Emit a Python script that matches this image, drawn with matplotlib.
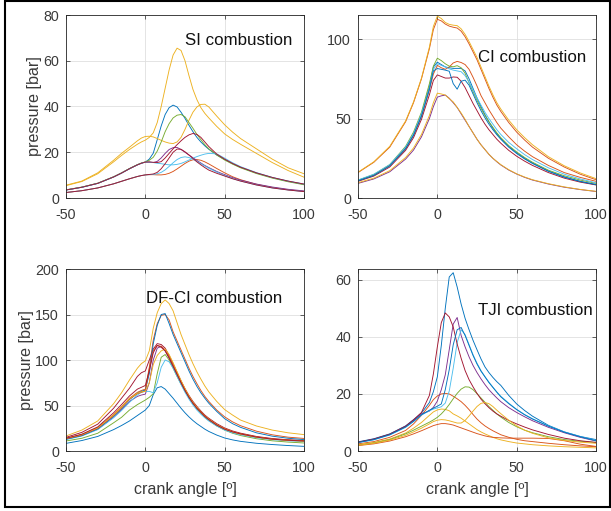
"""Cylinder pressure traces for four combustion modes (SI, CI, DF-CI, TJI).

2x2 panel figure, MATLAB-like look, saved as out.png (611x511 px).
"""
import matplotlib
matplotlib.use("Agg")
import matplotlib.pyplot as plt
from matplotlib.patches import Rectangle

plt.rcParams["font.family"] = ["Liberation Sans", "DejaVu Sans"]
plt.rcParams["axes.unicode_minus"] = False

# crank angle grid [deg] shared by every trace
CA = [-50, -40, -30, -20, -15, -10, -5, -2.5, 0, 2.5, 5, 7.5, 10, 12.5, 15,
      17.5, 20, 22.5, 25, 27.5, 30, 32.5, 35, 37.5, 40, 45, 50, 55, 60, 70,
      80, 90, 100]

# ---- SI combustion [bar] ----
si_blue = [3.5, 4.7, 6.4, 9.2, 10.9, 12.8, 14.5, 15.2, 15.7, 17.0, 19.6, 25.5, 31.5, 36.5, 39.5,
           40.6, 39.8, 37.5, 34.8, 31.8, 29.0, 26.5, 24.5, 22.8, 21.3, 18.8, 16.8, 15.0, 13.4, 10.9,
           8.9, 7.3, 6.0]
si_orange = [2.4, 3.2, 4.4, 6.2, 7.3, 8.4, 9.4, 9.8, 10.1, 10.2, 10.2, 10.1, 10.1, 10.3, 10.8,
             11.6, 12.7, 13.9, 15.1, 16.1, 16.7, 16.8, 16.5, 15.8, 14.9, 12.9, 11.0, 9.3, 8.0, 6.0,
             4.6, 3.6, 2.9]
si_yellow_a = [5.6, 7.4, 11.0, 16.5, 19.5, 22.2, 25.0, 26.2, 26.9, 27.0, 26.7, 26.0, 25.2, 24.5, 24.0,
               23.8, 24.5, 26.5, 30.0, 34.0, 37.5, 39.8, 40.9, 41.0, 39.8, 35.8, 32.0, 28.8, 26.0, 21.5,
               17.0, 13.2, 10.6]
si_purple = [3.5, 4.7, 6.4, 9.2, 10.9, 12.8, 14.5, 15.2, 15.7, 15.6, 15.5, 16.0, 17.5, 19.5, 21.2,
             22.0, 22.1, 21.2, 20.0, 18.8, 17.6, 16.4, 15.3, 14.2, 13.3, 11.6, 10.2, 8.9, 7.8, 6.1,
             4.8, 3.8, 3.1]
si_green = [3.6, 4.8, 6.5, 9.3, 11.0, 12.9, 14.6, 15.3, 15.8, 16.5, 17.8, 20.5, 24.5, 29.0, 32.5,
            35.0, 36.2, 36.5, 35.5, 33.0, 30.5, 27.8, 25.5, 23.3, 21.5, 18.8, 16.6, 14.8, 13.2, 10.7,
            8.7, 7.1, 5.8]
si_ltblue_a = [3.5, 4.7, 6.4, 9.2, 10.9, 12.8, 14.5, 15.2, 15.7, 15.7, 15.5, 15.2, 15.0, 14.7, 14.5,
               14.5, 14.7, 15.1, 15.8, 16.6, 17.4, 18.1, 18.7, 19.2, 19.5, 19.3, 17.4, 15.4, 13.7, 11.1,
               9.0, 7.4, 6.1]
si_darkred_a = [3.5, 4.7, 6.4, 9.2, 10.9, 12.8, 14.5, 15.2, 15.7, 15.8, 15.6, 15.5, 15.9, 17.5, 19.5,
                21.5, 23.3, 25.0, 26.5, 27.6, 28.2, 27.8, 26.5, 24.5, 22.5, 19.2, 17.0, 15.1, 13.5, 11.0,
                9.0, 7.4, 6.1]
si_ltblue_b = [2.4, 3.2, 4.4, 6.2, 7.3, 8.4, 9.4, 9.8, 10.1, 10.2, 10.3, 10.6, 11.2, 12.3, 13.8,
               15.4, 16.8, 17.7, 18.0, 17.7, 17.0, 16.0, 15.0, 14.0, 13.0, 11.3, 9.8, 8.5, 7.4, 5.7,
               4.4, 3.5, 2.8]
si_darkred_b = [2.4, 3.2, 4.4, 6.2, 7.3, 8.4, 9.4, 9.8, 10.1, 10.3, 10.5, 11.2, 12.8, 15.0, 17.5,
                20.0, 21.4, 21.3, 20.2, 18.8, 17.3, 15.8, 14.5, 13.3, 12.2, 10.8, 9.6, 8.4, 7.4, 5.7,
                4.4, 3.5, 2.8]
si_yellow_b = [5.4, 7.2, 10.6, 15.8, 18.6, 21.2, 23.5, 24.5, 25.3, 26.5, 28.5, 33.0, 40.0, 48.0, 56.0,
               62.5, 65.5, 64.5, 60.0, 53.5, 47.5, 43.0, 39.5, 37.0, 35.0, 31.3, 28.0, 25.6, 23.5, 19.5,
               15.5, 12.0, 9.1]

# ---- CI combustion [bar] ----
ci_orange_top = [16.0, 22.5, 32.0, 48.0, 60.0, 75.0, 94.0, 106.0, 112.5, 111.5, 109.5, 108.2, 107.5, 107.0, 105.0,
                 101.5, 97.0, 92.0, 87.0, 81.0, 75.0, 69.0, 63.5, 58.5, 54.5, 47.5, 41.5, 36.5, 32.0, 25.0,
                 19.5, 15.0, 11.5]
ci_yellow_top = [16.2, 22.8, 32.5, 48.5, 60.5, 75.5, 95.0, 108.0, 114.5, 113.0, 110.5, 109.3, 108.8, 108.5, 106.5,
                 103.0, 98.5, 93.5, 88.5, 82.5, 76.5, 70.5, 65.0, 60.0, 56.0, 49.0, 43.0, 38.0, 33.5, 26.0,
                 20.3, 15.8, 12.2]
ci_purple = [9.2, 12.0, 16.5, 24.5, 30.2, 38.5, 50.0, 57.5, 63.5, 64.3, 64.8, 62.8, 60.0, 57.0, 53.0,
             49.0, 45.0, 41.0, 37.0, 33.5, 30.5, 27.5, 25.0, 22.8, 20.8, 17.6, 15.1, 13.0, 11.3, 8.8,
             6.8, 5.3, 4.1]
ci_yellow_low = [9.6, 12.5, 17.2, 25.5, 31.5, 40.0, 52.0, 60.0, 66.0, 65.5, 64.8, 62.5, 60.5, 57.0, 53.5,
                 49.5, 45.0, 41.0, 37.0, 33.5, 30.5, 27.5, 25.0, 23.0, 21.0, 17.8, 15.2, 13.2, 11.5, 9.0,
                 7.0, 5.4, 4.2]
ci_blue = [11.0, 14.5, 20.5, 31.5, 40.0, 52.5, 70.0, 82.5, 85.5, 84.0, 82.5, 82.0, 81.6, 81.6, 81.6,
           80.0, 75.0, 69.0, 63.0, 57.5, 52.5, 48.0, 44.0, 40.5, 37.5, 32.5, 28.5, 25.0, 22.0, 17.0,
           13.3, 10.5, 8.5]
ci_orange_mid = [11.0, 14.5, 20.5, 31.0, 39.5, 51.5, 68.0, 78.0, 83.5, 82.0, 81.0, 82.5, 85.0, 86.0, 85.3,
                 84.0, 81.0, 76.0, 70.5, 64.5, 60.0, 55.5, 51.5, 47.5, 44.0, 38.5, 33.5, 29.5, 26.0, 20.5,
                 16.0, 13.0, 10.5]
ci_green = [11.2, 14.8, 21.0, 32.5, 41.5, 54.0, 72.0, 83.0, 88.0, 86.5, 84.5, 83.0, 82.6, 83.3, 82.0,
            78.5, 72.5, 67.0, 61.5, 56.5, 52.0, 48.0, 44.5, 41.0, 38.0, 33.0, 29.0, 25.5, 22.5, 17.5,
            14.0, 11.3, 9.2]
ci_ltblue = [11.3, 15.0, 21.0, 32.0, 40.5, 53.0, 69.0, 81.0, 84.5, 83.5, 82.5, 81.3, 80.5, 80.0, 79.5,
             77.0, 73.0, 68.0, 63.0, 58.5, 54.0, 50.0, 46.5, 43.0, 40.0, 35.0, 31.0, 27.3, 24.2, 19.0,
             15.0, 12.0, 9.6]
ci_darkred = [10.5, 13.8, 19.5, 30.0, 38.0, 49.5, 65.0, 74.0, 77.5, 76.5, 75.5, 75.5, 76.2, 76.0, 73.5,
              69.5, 64.5, 59.5, 55.0, 50.5, 46.5, 43.0, 40.0, 37.0, 34.5, 30.0, 26.3, 23.2, 20.5, 16.0,
              12.5, 10.0, 8.2]
ci_blue_dip = [10.8, 14.2, 20.2, 31.0, 39.5, 51.5, 68.5, 80.0, 81.5, 81.0, 80.5, 79.8, 72.0, 68.5, 73.5,
               74.2, 71.0, 65.5, 60.0, 55.0, 50.5, 46.5, 43.0, 39.8, 37.0, 32.0, 28.0, 24.6, 21.7, 16.8,
               13.1, 10.4, 8.4]

# ---- DF-CI combustion [bar] ----
df_blue_low = [8.4, 11.5, 16.0, 23.5, 28.0, 33.0, 39.0, 42.0, 45.0, 50.0, 62.0, 69.5, 70.8, 68.0, 63.0,
               58.0, 52.5, 47.0, 42.0, 37.5, 33.5, 30.0, 27.0, 24.0, 21.5, 17.5, 14.3, 12.2, 10.6, 8.5,
               7.1, 6.0, 5.1]
df_orange_high = [13.8, 18.0, 25.5, 40.0, 48.5, 58.0, 64.5, 66.5, 68.0, 92.0, 122.0, 140.0, 149.0, 150.0, 144.0,
                  131.0, 121.0, 111.0, 101.0, 91.0, 82.0, 74.0, 66.5, 60.0, 54.5, 45.0, 37.5, 32.0, 27.8, 21.8,
                  17.8, 15.2, 13.8]
df_yellow_top = [16.5, 23.0, 33.0, 52.0, 64.0, 78.0, 91.0, 96.0, 99.0, 110.0, 135.0, 152.0, 162.0, 166.0, 162.0,
                 154.0, 141.0, 128.0, 117.0, 106.0, 96.0, 87.0, 79.0, 71.5, 65.0, 54.5, 45.5, 39.5, 34.0, 27.5,
                 23.0, 20.0, 18.0]
df_purple = [13.0, 17.0, 24.0, 37.5, 45.5, 54.5, 60.0, 61.5, 62.5, 75.0, 100.0, 113.0, 115.0, 110.0, 102.5,
             93.5, 84.5, 75.5, 67.0, 59.0, 52.5, 47.0, 42.5, 38.0, 34.5, 28.5, 24.0, 21.0, 18.8, 15.3,
             13.0, 11.8, 11.0]
df_green = [11.0, 14.0, 19.5, 31.0, 37.0, 45.0, 51.0, 53.5, 56.0, 59.0, 63.0, 85.0, 103.0, 106.0, 100.0,
            91.0, 82.0, 73.5, 65.5, 58.5, 52.0, 46.5, 41.5, 37.0, 33.5, 27.5, 23.0, 19.5, 17.0, 13.5,
            11.2, 9.8, 8.8]
df_ltblue = [12.5, 16.5, 23.5, 36.5, 44.5, 53.5, 61.5, 64.5, 65.5, 65.5, 64.0, 75.0, 92.0, 100.0, 98.0,
             91.0, 82.0, 73.0, 64.5, 57.0, 50.5, 45.0, 40.5, 36.5, 33.0, 27.5, 23.0, 20.0, 17.8, 14.6,
             12.5, 11.2, 10.3]
df_darkred_a = [15.0, 20.5, 29.5, 47.0, 58.0, 69.0, 82.0, 86.0, 88.0, 100.0, 112.0, 118.0, 117.0, 113.0, 105.0,
                96.0, 86.5, 77.0, 68.5, 61.0, 54.5, 49.0, 44.0, 39.5, 36.0, 30.0, 25.3, 22.0, 19.6, 16.0,
                13.7, 12.3, 11.5]
df_blue_high = [13.0, 17.0, 24.5, 38.5, 47.0, 56.5, 63.5, 65.5, 67.0, 85.0, 118.0, 138.0, 150.0, 151.0, 140.0,
                128.0, 118.0, 108.0, 98.0, 88.0, 79.0, 71.0, 64.0, 58.0, 52.5, 43.5, 35.5, 30.0, 26.0, 20.0,
                16.3, 14.0, 12.5]
df_orange = [13.5, 17.5, 25.0, 39.0, 47.5, 57.0, 63.0, 64.5, 66.0, 90.0, 110.0, 116.0, 115.0, 111.0, 104.0,
             95.0, 85.5, 76.0, 67.5, 59.5, 53.0, 47.5, 43.0, 38.5, 35.0, 29.0, 24.5, 21.3, 19.0, 15.5,
             13.3, 12.0, 11.2]
df_yellow = [13.8, 18.0, 25.5, 39.5, 48.0, 57.5, 63.5, 65.0, 65.5, 75.0, 95.0, 105.0, 110.0, 112.0, 106.0,
             97.0, 87.0, 77.5, 68.5, 60.5, 53.5, 48.0, 43.0, 38.5, 35.0, 29.0, 24.3, 21.0, 18.6, 15.2,
             12.9, 11.6, 10.8]
df_darkred_b = [14.0, 18.5, 26.5, 42.0, 51.0, 60.5, 68.0, 70.0, 72.0, 88.0, 108.0, 116.0, 114.0, 110.0, 102.0,
                93.0, 84.0, 75.0, 66.5, 59.0, 52.5, 47.0, 42.5, 38.0, 34.5, 28.5, 24.0, 21.0, 18.8, 15.3,
                13.0, 11.8, 11.0]

# ---- TJI combustion [bar] ----
tji_blue_top = [3.2, 4.3, 6.0, 8.8, 11.0, 13.3, 17.0, 20.8, 26.0, 37.0, 50.0, 61.0, 62.5, 57.5, 51.5,
                46.5, 42.5, 38.8, 35.5, 32.3, 29.5, 27.5, 25.8, 24.3, 23.0, 19.5, 16.5, 14.2, 12.2, 9.0,
                6.7, 5.1, 4.0]
tji_orange = [2.5, 3.3, 4.8, 7.2, 9.5, 12.5, 16.0, 18.0, 19.3, 20.0, 20.2, 20.0, 19.2, 18.3, 17.3,
              16.0, 14.5, 12.8, 11.2, 9.9, 8.8, 7.9, 7.1, 6.4, 5.7, 4.8, 4.1, 3.6, 3.3, 2.7,
              2.2, 1.8, 1.5]
tji_yellow_a = [2.2, 3.0, 4.2, 6.3, 8.0, 10.0, 12.5, 13.7, 14.4, 14.7, 14.6, 14.1, 13.0, 12.3, 11.5,
                10.5, 9.5, 8.5, 7.5, 6.7, 6.0, 5.4, 4.8, 4.3, 3.9, 3.3, 2.8, 2.5, 2.2, 1.8,
                1.5, 1.3, 1.1]
tji_purple = [3.0, 4.1, 5.8, 8.6, 10.7, 13.0, 14.0, 15.3, 17.5, 21.5, 26.7, 35.5, 44.5, 46.8, 40.5,
              36.5, 33.0, 30.0, 27.5, 25.3, 23.3, 21.5, 20.0, 18.6, 17.3, 15.2, 13.5, 12.0, 10.6, 8.3,
              6.4, 4.8, 3.5]
tji_green = [2.0, 2.8, 4.0, 6.0, 7.3, 8.7, 10.1, 10.9, 11.8, 13.0, 14.5, 16.3, 18.3, 20.2, 21.7,
             22.5, 22.4, 21.5, 20.1, 18.6, 17.1, 15.6, 14.3, 13.0, 11.9, 10.0, 8.5, 7.3, 6.4, 5.0,
             4.0, 3.4, 3.0]
tji_ltblue = [2.9, 3.9, 5.6, 8.3, 10.3, 12.6, 14.1, 14.7, 15.1, 15.5, 16.8, 21.0, 29.0, 38.0, 42.5,
              40.8, 37.3, 33.8, 30.8, 28.2, 26.1, 24.2, 22.4, 20.7, 19.2, 16.8, 14.6, 12.8, 11.3, 8.8,
              6.7, 5.1, 3.7]
tji_darkred = [3.1, 4.2, 5.9, 8.7, 10.9, 13.5, 19.5, 27.0, 36.5, 45.0, 48.4, 47.0, 43.5, 37.5, 32.5,
               28.2, 25.0, 22.5, 20.2, 18.2, 16.6, 15.2, 14.0, 13.0, 12.2, 10.7, 9.5, 8.4, 7.4, 5.8,
               4.5, 3.6, 3.0]
tji_blue2 = [3.0, 4.0, 5.7, 8.4, 10.4, 12.7, 14.3, 15.0, 15.7, 16.5, 21.5, 28.5, 37.2, 42.5, 43.3,
             40.5, 37.0, 33.5, 30.5, 28.0, 26.0, 24.0, 22.3, 20.6, 19.0, 16.6, 14.5, 12.7, 11.2, 8.7,
             6.6, 5.0, 3.6]
tji_orange_low = [1.9, 2.5, 3.5, 5.0, 6.0, 7.1, 8.3, 8.9, 9.3, 9.6, 9.6, 9.4, 9.1, 8.6, 8.1,
                  7.6, 7.1, 6.6, 6.1, 5.7, 5.3, 5.0, 4.8, 4.7, 4.6, 4.5, 4.5, 4.5, 4.5, 4.4,
                  3.6, 2.4, 1.6]
tji_yellow_b = [2.0, 2.7, 3.8, 5.5, 6.7, 8.0, 9.5, 10.3, 10.8, 11.0, 10.9, 10.6, 10.2, 9.8, 9.8,
                10.7, 12.3, 14.0, 15.6, 16.7, 17.0, 16.6, 15.6, 14.3, 13.1, 10.8, 8.8, 7.3, 6.2, 4.6,
                3.7, 3.1, 2.7]

# MATLAB default line colours
BLUE, ORANGE, YELLOW, PURPLE = "#0072BD", "#D95319", "#EDB120", "#7E2F8E"
GREEN, LTBLUE, DARKRED = "#77AC30", "#4DBEEE", "#A2142F"

W, H = 611, 511


def px_axes(fig, left, top, right, bottom):
    """Axes placed by pixel box (origin top-left)."""
    return fig.add_axes([left / W, 1 - bottom / H, (right - left) / W, (bottom - top) / H])


def draw_panel(ax, curves, ymax, yticks, label, label_xy, xlabel=False, ylabel=False):
    for p, c in curves:
        ax.plot(CA, p, color=c, lw=0.65)
    ax.set_xlim(-50, 100)
    ax.set_ylim(0, ymax)
    ax.set_xticks([-50, 0, 50, 100])
    ax.set_yticks(yticks)
    ax.set_axisbelow(True)
    ax.grid(True, color="#dfdfdf", lw=0.6)
    ax.tick_params(direction="in", top=True, right=True, length=3, width=0.5,
                   colors="#262626", labelsize=10.3, labelcolor="#3a3a3a")
    ax.tick_params(axis="x", pad=7)
    ax.tick_params(axis="y", pad=5)
    for s in ax.spines.values():
        s.set_color("#262626")
        s.set_linewidth(0.6)
    ax.text(label_xy[0], label_xy[1], label, fontsize=12.2, color="#111111",
            ha="left", va="center")
    if xlabel:
        ax.set_xlabel("crank angle [º]", fontsize=11.6, color="#3a3a3a", labelpad=5.5)
    if ylabel:
        ax.set_ylabel("pressure [bar]", fontsize=11.6, color="#3a3a3a", labelpad=1)


def main():
    fig = plt.figure(figsize=(W / 100, H / 100), dpi=100)

    si = [(si_blue, BLUE), (si_orange, ORANGE), (si_yellow_a, YELLOW), (si_purple, PURPLE),
          (si_green, GREEN), (si_ltblue_a, LTBLUE), (si_darkred_a, DARKRED),
          (si_ltblue_b, LTBLUE), (si_darkred_b, DARKRED), (si_yellow_b, YELLOW)]
    ci = [(ci_orange_top, ORANGE), (ci_yellow_top, YELLOW), (ci_purple, PURPLE),
          (ci_yellow_low, YELLOW), (ci_blue, BLUE), (ci_orange_mid, ORANGE), (ci_green, GREEN),
          (ci_ltblue, LTBLUE), (ci_darkred, DARKRED), (ci_blue_dip, BLUE)]
    df = [(df_blue_low, BLUE), (df_orange_high, ORANGE), (df_yellow_top, YELLOW),
          (df_purple, PURPLE), (df_green, GREEN), (df_ltblue, LTBLUE), (df_darkred_a, DARKRED),
          (df_blue_high, BLUE), (df_orange, ORANGE), (df_yellow, YELLOW), (df_darkred_b, DARKRED)]
    tji = [(tji_blue_top, BLUE), (tji_orange, ORANGE), (tji_yellow_a, YELLOW), (tji_purple, PURPLE),
           (tji_green, GREEN), (tji_ltblue, LTBLUE), (tji_darkred, DARKRED), (tji_blue2, BLUE),
           (tji_orange_low, ORANGE), (tji_yellow_b, YELLOW)]

    ax1 = px_axes(fig, 66, 15, 304, 198)
    draw_panel(ax1, si, 80, [0, 20, 40, 60, 80], "SI combustion", (25, 69), ylabel=True)
    ax2 = px_axes(fig, 358, 15, 596, 198)
    draw_panel(ax2, ci, 115.2, [0, 50, 100], "CI combustion", (25.4, 88.7))
    ax3 = px_axes(fig, 66, 269, 304, 451)
    draw_panel(ax3, df, 200, [0, 50, 100, 150, 200], "DF-CI combustion", (0.2, 167.8),
               xlabel=True, ylabel=True)
    ax4 = px_axes(fig, 358, 269, 596, 451)
    draw_panel(ax4, tji, 63.8, [0, 20, 40, 60], "TJI combustion", (25.4, 49.2), xlabel=True)

    # black frame around the whole figure
    fig.patches.append(Rectangle((4.5 / W, 4 / H), 605 / W, 505.5 / H, transform=fig.transFigure,
                                 fill=False, ec="black", lw=1.5))
    fig.savefig("out.png", dpi=100)


if __name__ == "__main__":
    main()
